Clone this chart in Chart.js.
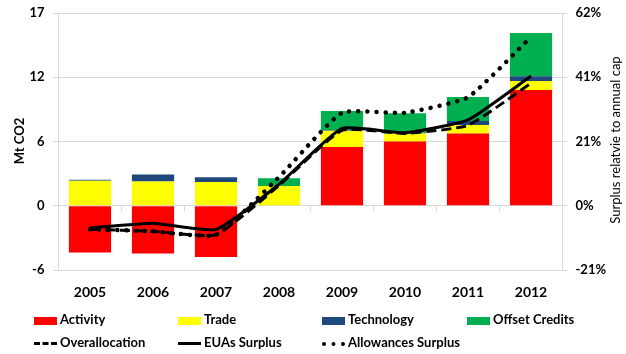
<html>
  <head>
    <title>EU ETS surplus decomposition</title>
    <script src="https://cdn.jsdelivr.net/npm/chart.js@4.4.1/dist/chart.umd.min.js"></script>
    <style>
      body { margin: 0; background: #fff; }
      #wrap { position: relative; width: 626px; height: 354px; }
      #legend { position: absolute; left: 0; top: 310px; width: 626px; font: bold 13px Lato, sans-serif; color: #000; }
      .item { position: absolute; height: 18px; line-height: 18px; white-space: nowrap; }
      .sym { display: inline-block; width: 23px; vertical-align: middle; margin-right: 3px; }
      .ytitle { position: absolute; width: 240px; text-align: center; font: 13px Lato, sans-serif; color: #000;
                transform: translate(-50%, -50%) rotate(-90deg); white-space: nowrap; }
    </style>
  </head>
  <body>
    <div id="wrap">
      <canvas id="surplus"></canvas>
      <div class="ytitle" style="left:19px; top:141px; font-weight:bold">Mt CO2</div>
      <div class="ytitle" style="left:615px; top:140px">Surplus relatvie to annual cap</div>
      <div id="legend"></div>
    </div>
    <script>
      var years = ['2005', '2006', '2007', '2008', '2009', '2010', '2011', '2012'];

      // Mt CO2, stacked bars
      var activity   = [-4.23, -4.32, -4.62, 0, 5.31, 5.8, 6.53, 10.45];
      var trade      = [2.25, 2.2, 2.14, 1.78, 1.45, 0.73, 0.75, 0.82];
      var technology = [0.1, 0.63, 0.43, 0, 0.08, 0.08, 0.36, 0.43];
      var offsets    = [0, 0, 0, 0.7, 1.72, 1.75, 2.18, 3.9];

      // % of annual cap, lines
      var overallocation = [-7.5, -8.2, -9.3, 6.5, 24.2, 23.2, 25.8, 39.3];
      var euasSurplus    = [-7.1, -5.6, -7.6, 6.9, 24.8, 23.4, 27.5, 41.6];
      var allowances     = [-7.5, -8.2, -9.3, 9.2, 29.8, 29.8, 34.8, 54.1];

      var leftTicks = { min: -5.8, max: 17.4, step: 5.8 };
      var rightTicks = { min: -20.6, max: 61.8, step: 20.6 };

      var grey = '#d9d9d9';
      var font = 'Lato';

      function bar(label, data, color) {
        return { label: label, data: data, backgroundColor: color, stack: 's', order: 1,
                 barPercentage: 0.67, categoryPercentage: 1 };
      }
      function line(label, data, dash, width) {
        return { label: label, data: data, type: 'line', yAxisID: 'y1', order: 0,
                 borderColor: '#000', borderWidth: width, borderDash: dash,
                 borderCapStyle: dash.length && dash[0] < 1 ? 'round' : 'butt',
                 pointRadius: 0, tension: 0.15, fill: false };
      }

      // fixed axis width, no extra room reserved for the end labels
      function fixWidth(w) {
        return function(s) { s.width = w; s.paddingTop = 0; s.paddingBottom = 0; };
      }

      var datasets = [
        bar('Activity', activity, '#ff0000'),
        bar('Trade', trade, '#ffff00'),
        bar('Technology', technology, '#1f497d'),
        bar('Offset Credits', offsets, '#00b050'),
        line('Overallocation', overallocation, [10, 5], 3),
        line('EUAs Surplus', euasSurplus, [], 3),
        line('Allowances Surplus', allowances, [0.1, 9], 4.5)
      ];

      new Chart('surplus', {
        type: 'bar',
        data: { labels: years, datasets: datasets },
        options: {
          responsive: true,
          maintainAspectRatio: false,
          animation: false,
          layout: { padding: { top: 13, left: 0, right: 0, bottom: 0 } },
          plugins: { legend: { display: false }, tooltip: { enabled: false } },
          scales: {
            x: {
              stacked: true,
              grid: { display: false, drawTicks: false },
              border: { display: false },
              ticks: { color: '#000', padding: 14, font: { family: font, size: 14, weight: 'bold' } },
              afterFit: function(s) { s.height = 84; }
            },
            x2: {
              type: 'category',
              labels: years,
              position: { y: 0 },
              offset: true,
              grid: { offset: true, drawOnChartArea: false, tickLength: 5, color: grey },
              border: { color: grey },
              ticks: { display: false }
            },
            y: {
              stacked: true,
              min: leftTicks.min,
              max: leftTicks.max,
              ticks: {
                stepSize: leftTicks.step, color: '#000', padding: 9,
                font: { family: font, size: 13, weight: 'bold' },
                callback: function(v) { return Math.round(v); }
              },
              grid: { color: grey, tickLength: 5 },
              border: { color: grey },
              afterFit: fixWidth(58.5)
            },
            y1: {
              position: 'right',
              min: rightTicks.min,
              max: rightTicks.max,
              ticks: {
                stepSize: rightTicks.step, color: '#000', padding: 8,
                font: { family: font, size: 13, weight: 'bold' },
                callback: function(v) { return Math.round(v) + '%'; }
              },
              grid: { drawOnChartArea: false, color: grey, tickLength: 5 },
              border: { color: grey },
              afterFit: fixWidth(63.5)
            }
          }
        }
      });

      // legend laid out in fixed columns, two rows
      var cols = [34, 178, 322, 467];
      var legend = document.getElementById('legend');
      datasets.forEach(function(d, i) {
        var row = i < 4 ? 0 : 1;
        var col = i < 4 ? i : i - 4;
        var el = document.createElement('div');
        el.className = 'item';
        el.style.left = cols[col] + 'px';
        el.style.top = (row * 23) + 'px';
        var sym = document.createElement('span');
        sym.className = 'sym';
        if (d.type === 'line') {
          var style = d.borderDash.length === 0 ? 'solid' : (d.borderDash[0] < 1 ? 'dotted' : 'dashed');
          sym.style.borderTop = (style === 'dotted' ? 4 : 3) + 'px ' + style + ' #000';
          sym.style.height = '0';
        } else {
          sym.style.height = '8px';
          sym.style.background = d.backgroundColor;
        }
        el.appendChild(sym);
        el.appendChild(document.createTextNode(d.label));
        legend.appendChild(el);
      });
    </script>
  </body>
</html>
